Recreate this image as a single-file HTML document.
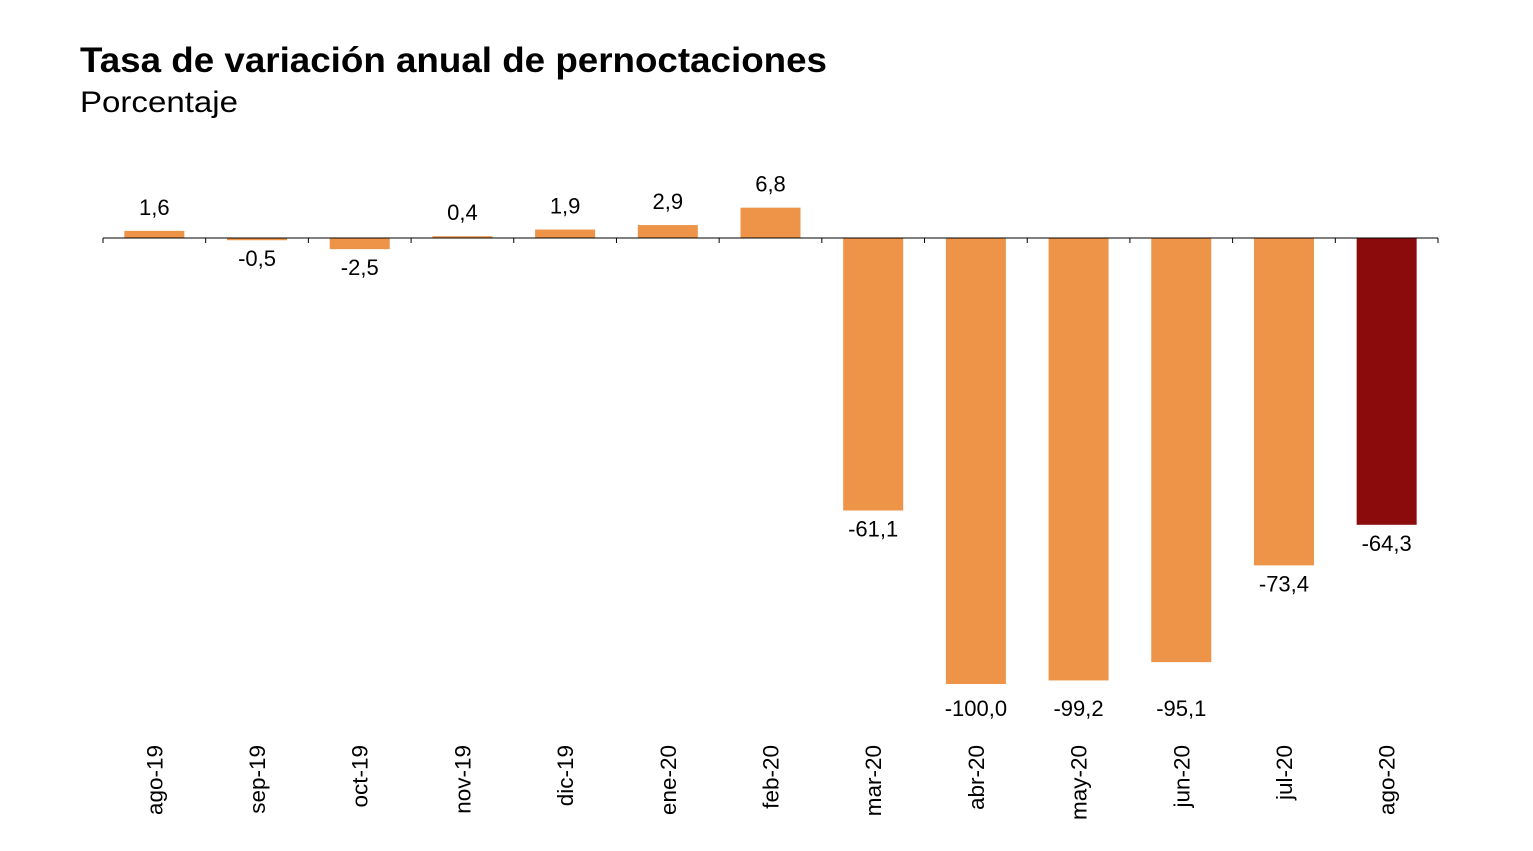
<!DOCTYPE html>
<html><head><meta charset="utf-8"><style>
html,body{margin:0;padding:0;background:#fff;}
svg{display:block;font-family:"Liberation Sans",Arial,sans-serif;}
</style></head><body>
<svg id="chart" width="1533" height="851">
<text x="80" y="72" font-size="35" font-weight="bold" fill="#000" textLength="747" lengthAdjust="spacingAndGlyphs">Tasa de variación anual de pernoctaciones</text>
<text x="80" y="112" font-size="30" fill="#000" textLength="158" lengthAdjust="spacingAndGlyphs">Porcentaje</text>
<g id="bars"></g>
<g id="axis"></g>
</svg>
<script>
const categories=["ago-19","sep-19","oct-19","nov-19","dic-19","ene-20","feb-20","mar-20","abr-20","may-20","jun-20","jul-20","ago-20"];
const values=[1.6,-0.5,-2.5,0.4,1.9,2.9,6.8,-61.1,-100.0,-99.2,-95.1,-73.4,-64.3];
const labels=["1,6","-0,5","-2,5","0,4","1,9","2,9","6,8","-61,1","-100,0","-99,2","-95,1","-73,4","-64,3"];
const NS="http://www.w3.org/2000/svg";
const x0=103,x1=1438,y0=238,k=4.46;
const bw=(x1-x0)/categories.length;
const xc=i=>x0+bw*(i+0.5);
const y=v=>y0-v*k;
const bars=document.getElementById('bars'),axis=document.getElementById('axis');
function mk(t,a,p){const e=document.createElementNS(NS,t);for(const n in a)e.setAttribute(n,a[n]);p.appendChild(e);return e;}
values.forEach((v,i)=>{
  const top=Math.min(y(v),y0),h=Math.max(Math.abs(y(v)-y0),1.5);
  const r=mk('rect',{x:xc(i)-30,y:top,width:60,height:h,fill:i===values.length-1?'#8B0A0C':'#ED9448'},bars);
  
  
  let ly;
  if(v>=0) ly=y(v)-16;
  else { ly=y(v)+26; if(v<-90) ly=716; }
  const t=mk('text',{x:xc(i),y:ly,'font-size':22,'text-anchor':'middle',fill:'#000'},bars);
  t.textContent=labels[i];
  
  
  const c=mk('text',{x:0,y:0,'font-size':22.5,'text-anchor':'end',fill:'#000',transform:`translate(${xc(i)+8},745) rotate(-90)`},axis);
  c.textContent=categories[i];
  
  
});
const ln=mk('line',{x1:x0,y1:y0,x2:x1,y2:y0,stroke:'#000','stroke-width':1},axis);


for(let i=0;i<=categories.length;i++){
  const tk=mk('line',{x1:x0+bw*i,y1:y0,x2:x0+bw*i,y2:y0+5,stroke:'#000','stroke-width':1},axis);
  
  
}
</script>
</body></html>
